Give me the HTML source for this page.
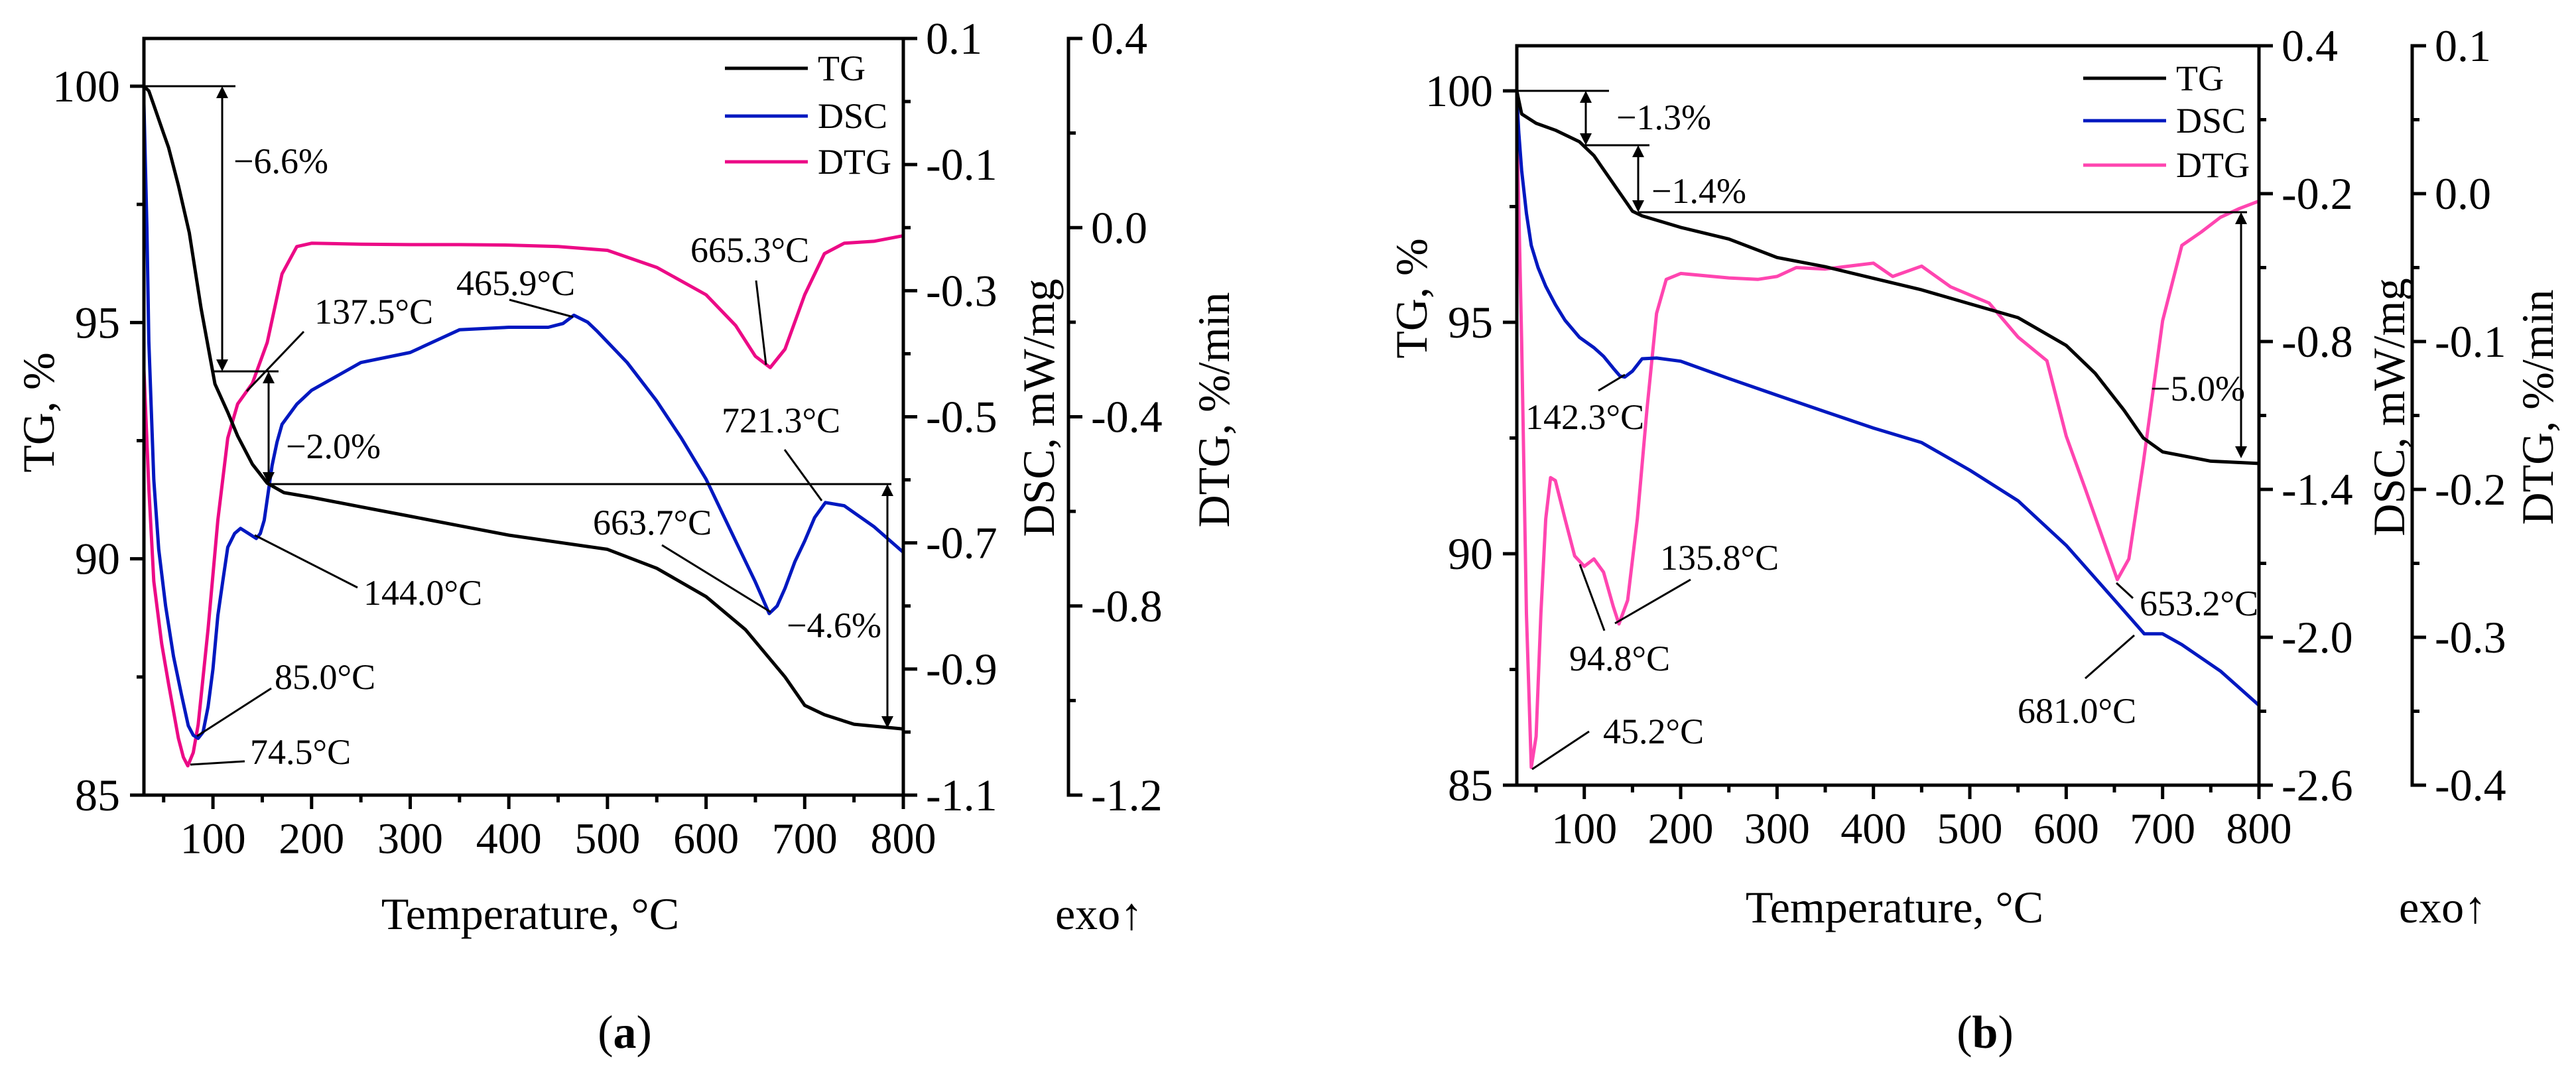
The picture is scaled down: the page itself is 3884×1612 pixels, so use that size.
<!DOCTYPE html>
<html><head><meta charset="utf-8"><style>
html,body{margin:0;padding:0;background:#fff;}
svg{display:block;font-family:"Liberation Serif",serif;}
</style></head><body>
<svg id="chart" width="3884" height="1612" viewBox="0 0 3884 1612" xmlns="http://www.w3.org/2000/svg"></svg>
<script>
// ---------- Panel (a) data ----------
const aTgT = [30,35,40,50,55,65,76,88,102,115,125,140,155,172,200,250,300,350,400,450,500,550,600,640,680,700,720,750,800];
const aTgV = [100,99.9,99.6,99.0,98.7,97.9,96.9,95.3,93.7,93.1,92.6,92.0,91.6,91.4,91.3,91.1,90.9,90.7,90.5,90.35,90.2,89.8,89.2,88.5,87.5,86.9,86.7,86.5,86.4];
const aDscT = [30,33,35,40,45,52,60,68,75,80,85,90,95,100,105,110,115,122,128,136,144,148,152,156,160,165,170,185,200,250,300,350,400,440,455,466,480,490,520,550,575,600,630,650,664,672,680,690,700,710,721,740,770,800];
const aDscV = [-0.003,-0.2,-0.38,-0.6,-0.71,-0.8,-0.88,-0.94,-0.99,-1.005,-1.01,-1.0,-0.96,-0.9,-0.815,-0.76,-0.707,-0.685,-0.677,-0.685,-0.693,-0.685,-0.664,-0.62,-0.577,-0.54,-0.512,-0.48,-0.458,-0.414,-0.398,-0.362,-0.358,-0.358,-0.352,-0.339,-0.35,-0.365,-0.414,-0.475,-0.534,-0.599,-0.697,-0.762,-0.812,-0.80,-0.772,-0.73,-0.697,-0.66,-0.636,-0.641,-0.674,-0.715];
const aDtgT = [30,35,40,48,55,65,70,74.5,80,85,95,105,115,125,140,155,170,185,200,250,300,350,400,450,500,550,600,630,650,665,680,700,720,740,770,800];
const aDtgV = [-0.30,-0.55,-0.748,-0.88,-0.965,-1.08,-1.12,-1.138,-1.11,-1.051,-0.849,-0.618,-0.445,-0.373,-0.329,-0.243,-0.098,-0.04,-0.033,-0.035,-0.036,-0.036,-0.037,-0.040,-0.048,-0.084,-0.142,-0.207,-0.272,-0.296,-0.257,-0.142,-0.055,-0.033,-0.029,-0.017];

// ---------- Panel (b) data ----------
const bTgT = [30,35,50,70,95,110,130,150,160,200,250,300,350,400,450,500,550,600,630,660,680,700,750,800];
const bTgV = [100,99.5,99.3,99.15,98.9,98.6,98.0,97.4,97.3,97.05,96.8,96.4,96.2,95.95,95.7,95.4,95.1,94.5,93.9,93.1,92.5,92.2,92.0,91.95];
const bDscT = [30,32,35,40,45,52,60,70,80,95,110,120,130,137,142,150,160,175,200,250,300,350,400,450,500,550,600,650,681,700,720,760,800];
const bDscV = [0.2,0.05,-0.106,-0.28,-0.41,-0.5,-0.576,-0.65,-0.714,-0.783,-0.825,-0.86,-0.908,-0.94,-0.944,-0.92,-0.87,-0.867,-0.88,-0.95,-1.018,-1.085,-1.151,-1.21,-1.322,-1.446,-1.627,-1.848,-1.986,-1.986,-2.03,-2.137,-2.276];
const bDtgT = [30,35,40,45,50,55,60,65,70,80,90,100,110,120,130,136,145,155,165,175,185,200,250,280,300,320,350,400,420,450,480,520,550,580,600,620,640,653,665,680,700,720,740,760,780,800];
const bDtgV = [0.052,-0.1,-0.284,-0.388,-0.367,-0.284,-0.22,-0.192,-0.194,-0.22,-0.245,-0.252,-0.247,-0.256,-0.279,-0.291,-0.275,-0.22,-0.146,-0.081,-0.058,-0.054,-0.057,-0.058,-0.056,-0.05,-0.051,-0.047,-0.056,-0.049,-0.063,-0.074,-0.097,-0.113,-0.164,-0.2,-0.237,-0.261,-0.247,-0.182,-0.086,-0.035,-0.026,-0.016,-0.01,-0.005];

// tick labels
const aTgTicks = [85,90,95,100];
const aDscTicks = [0.1,-0.1,-0.3,-0.5,-0.7,-0.9,-1.1];
const aDtgTicks = [0.4,0.0,-0.4,-0.8,-1.2];
const bTgTicks = [85,90,95,100];
const bDscTicks = [0.4,-0.2,-0.8,-1.4,-2.0,-2.6];
const bDtgTicks = [0.1,0.0,-0.1,-0.2,-0.3,-0.4];
const xTicks = [100,200,300,400,500,600,700,800];

const NS = "http://www.w3.org/2000/svg";
const svg = document.getElementById('chart');
function mk(tag, attrs, parent){
  const e = document.createElementNS(NS, tag);
  for (const k in attrs) e.setAttribute(k, attrs[k]);
  (parent||svg).appendChild(e);
  return e;
}
function txt(s, x, y, size, anchor, parent, extra){
  const t = mk('text', Object.assign({x:x, y:y, 'font-size':size, 'text-anchor':anchor||'start', 'dominant-baseline':'central', fill:'#000'}, extra||{}), parent);
  t.textContent = s;
  return t;
}
function lin(d0,d1,p0,p1){ return v => p0 + (v-d0)*(p1-p0)/(d1-d0); }
function fmt(v){ return v.toFixed(1); }

function panel(cfg){
  const g = mk('g', {});
  
  
  const X = lin(30, 800, cfg.L, cfg.R);
  const Ytg = lin(100, 85, cfg.y100, cfg.B);
  const Ydsc = lin(cfg.dscTop, cfg.dscBot, cfg.T, cfg.B);
  const Ydtg = lin(cfg.dtgTop, cfg.dtgBot, cfg.T, cfg.B);

  // series
  function series(T, V, Y, color, nm){
    const pts = T.map((t,i)=> X(t).toFixed(1)+','+Y(V[i]).toFixed(1)).join(' ');
    const p = mk('polyline', {points:pts, fill:'none', stroke:color, 'stroke-width':5, 'stroke-linejoin':'round'}, g);
    
    
  }
  series(cfg.dtgT, cfg.dtgV, Ydtg, cfg.dtgColor, 'dtg-curve');
  series(cfg.dscT, cfg.dscV, Ydsc, '#0018c0', 'dsc-curve');
  series(cfg.tgT, cfg.tgV, Ytg, '#000', 'tg-curve');

  // frame
  const fr = mk('path', {d:`M${cfg.L},${cfg.T}H${cfg.R}V${cfg.B}H${cfg.L}Z`, fill:'none', stroke:'#000', 'stroke-width':5}, g);
  
  
  mk('line', {x1:cfg.L-20, y1:cfg.B, x2:cfg.R+20, y2:cfg.B, stroke:'#000', 'stroke-width':5}, g);

  // x ticks
  const xg = mk('g', {}, g);
  
  
  for (let t=50; t<=800; t+=50){
    const major = t%100===0;
    mk('line', {x1:X(t), y1:cfg.B, x2:X(t), y2:cfg.B+(major?21:11), stroke:'#000', 'stroke-width':5}, xg);
  }
  xTicks.forEach(t=>{ txt(String(t), X(t), cfg.B+66, 66, 'middle', xg); });
  const xt = txt('Temperature, °C', (cfg.L+cfg.R)/2+10, cfg.xTitleY, 68, 'middle', g);
  
  

  // TG axis
  const tg = mk('g', {}, g);
  
  
  for (let v=85; v<=100; v+=2.5){
    const major = v%5===0;
    mk('line', {x1:cfg.L-(major?21:11), y1:Ytg(v), x2:cfg.L, y2:Ytg(v), stroke:'#000', 'stroke-width':5}, tg);
  }
  cfg.tgTicks.forEach(v=>{ txt(String(v), cfg.L-36, Ytg(v), 68, 'end', tg); });
  const tgt = txt('TG, %', 0, 0, 68, 'middle', g, {transform:`translate(${cfg.tgTitle[0]},${cfg.tgTitle[1]}) rotate(-90)`});
  
  

  // DSC axis (right frame)
  const dg = mk('g', {}, g);
  
  
  const dstep = cfg.dscStep/2;
  for (let i=0; i<=Math.round((cfg.dscTop-cfg.dscBot)/dstep); i++){
    const v = cfg.dscTop - i*dstep;
    mk('line', {x1:cfg.R, y1:Ydsc(v), x2:cfg.R+(i%2===0?21:11), y2:Ydsc(v), stroke:'#000', 'stroke-width':5}, dg);
  }
  cfg.dscTicks.forEach(v=>{ txt(fmt(v), cfg.R+34, Ydsc(v), 68, 'start', dg); });
  const dt = txt('DSC, mW/mg', 0, 0, 68, 'middle', g, {transform:`translate(${cfg.dscTitle[0]},${cfg.dscTitle[1]}) rotate(-90)`});
  
  

  // DTG axis
  const tg2 = mk('g', {}, g);
  
  
  mk('line', {x1:cfg.dtgX, y1:cfg.T-2.5, x2:cfg.dtgX, y2:cfg.B+2.5, stroke:'#000', 'stroke-width':5}, tg2);
  const tstep = cfg.dtgStep/2;
  for (let i=0; i<=Math.round((cfg.dtgTop-cfg.dtgBot)/tstep); i++){
    const v = cfg.dtgTop - i*tstep;
    mk('line', {x1:cfg.dtgX, y1:Ydtg(v), x2:cfg.dtgX+(i%2===0?21:11), y2:Ydtg(v), stroke:'#000', 'stroke-width':5}, tg2);
  }
  cfg.dtgTicks.forEach(v=>{ txt(fmt(v), cfg.dtgX+34, Ydtg(v), 68, 'start', tg2); });
  const dtt = txt('DTG, %/min', 0, 0, 68, 'middle', g, {transform:`translate(${cfg.dtgTitle[0]},${cfg.dtgTitle[1]}) rotate(-90)`});
  
  

  const exo = txt('exo↑', cfg.dtgX-20, cfg.xTitleY, 68, 'start', g);
  
  

  // legend
  const lg = mk('g', {}, g);
  
  
  [['TG','#000'],['DSC','#0018c0'],['DTG',cfg.dtgColor]].forEach((e,i)=>{
    const y = cfg.legY[i];
    const row = mk('g', {}, lg);
    
    
    mk('line', {x1:cfg.legX, y1:y, x2:cfg.legX+125, y2:y, stroke:e[1], 'stroke-width':5}, row);
    txt(e[0], cfg.legX+140, y, 54, 'start', row);
  });

  // annotations
  const an = mk('g', {}, g);
  
  
  cfg.hlines.forEach(h=>{ mk('line', {x1:h[0], y1:h[2], x2:h[1], y2:h[2], stroke:'#000', 'stroke-width':3}, an); });
  cfg.arrows.forEach(a=>{
    const [x,y1,y2] = a;
    mk('line', {x1:x, y1:y1+14, x2:x, y2:y2-14, stroke:'#000', 'stroke-width':3}, an);
    mk('polygon', {points:`${x},${y1} ${x-9},${y1+18} ${x+9},${y1+18}`, fill:'#000'}, an);
    mk('polygon', {points:`${x},${y2} ${x-9},${y2-18} ${x+9},${y2-18}`, fill:'#000'}, an);
  });
  cfg.leaders.forEach(l=>{ mk('line', {x1:l[0], y1:l[1], x2:l[2], y2:l[3], stroke:'#000', 'stroke-width':3}, an); });
  cfg.labels.forEach(l=>{ txt(l[0], l[1], l[2], 54, 'start', an); });

  const cap = mk('text', {x:cfg.capX, y:cfg.capY, 'font-size':70, 'text-anchor':'middle', 'dominant-baseline':'central'}, svg);
  
  
  cap.innerHTML = '(<tspan font-weight="bold">'+cfg.cap+'</tspan>)';
}

panel({name:'panel-a', L:217, R:1362, T:58, B:1199, y100:130,
  dscTop:0.1, dscBot:-1.1, dscStep:0.2, dtgTop:0.4, dtgBot:-1.2, dtgStep:0.4, dtgX:1611,
  tgT:aTgT, tgV:aTgV, dscT:aDscT, dscV:aDscV, dtgT:aDtgT, dtgV:aDtgV, dtgColor:'#ec0a86',
  tgTicks:aTgTicks, dscTicks:aDscTicks, dtgTicks:aDtgTicks,
  tgTitle:[58,622], dscTitle:[1566,615], dtgTitle:[1830,618], xTitleY:1378,
  legX:1093, legY:[103,175,244], capX:942, capY:1557, cap:'a',
  hlines:[[217,355,130],[323,420,560],[403,1344,730]],
  arrows:[[335,130,560],[405,560,730],[1338,730,1098]],
  leaders:[[372,590,458,500],[384,807,539,886],[297,1110,409,1038],[287,1153,369,1148],[768,452,864,478],[1140,423,1155,550],[1183,678,1239,755],[998,822,1162,923]],
  labels:[['−6.6%',352,243],['−2.0%',431,673],['−4.6%',1186,943],['137.5°C',474,470],['144.0°C',548,894],['85.0°C',414,1021],['74.5°C',377,1134],['465.9°C',688,427],['665.3°C',1041,377],['721.3°C',1088,634],['663.7°C',894,788]]
});
panel({name:'panel-b', L:2287, R:3406, T:69, B:1184, y100:137,
  dscTop:0.4, dscBot:-2.6, dscStep:0.6, dtgTop:0.1, dtgBot:-0.4, dtgStep:0.1, dtgX:3637,
  tgT:bTgT, tgV:bTgV, dscT:bDscT, dscV:bDscV, dtgT:bDtgT, dtgV:bDtgV, dtgColor:'#ff45b0',
  tgTicks:bTgTicks, dscTicks:bDscTicks, dtgTicks:bDtgTicks,
  tgTitle:[2128,450], dscTitle:[3602,614], dtgTitle:[3826,614], xTitleY:1368,
  legX:3141, legY:[118,182,249], capX:2993, capY:1557, cap:'b',
  hlines:[[2287,2426,137],[2388,2487,219],[2470,3388,320]],
  arrows:[[2391,137,219],[2470,219,320],[3379,320,691]],
  leaders:[[2410,589,2450,565],[2435,940,2549,874],[2382,851,2419,951],[2310,1160,2396,1103],[3191,879,3216,902],[3144,1023,3218,958]],
  labels:[['−1.3%',2437,177],['−1.4%',2490,288],['−5.0%',3242,586],['142.3°C',2300,629],['135.8°C',2503,841],['94.8°C',2366,993],['45.2°C',2417,1103],['653.2°C',3226,910],['681.0°C',3042,1072]]
});
</script>
</body></html>
